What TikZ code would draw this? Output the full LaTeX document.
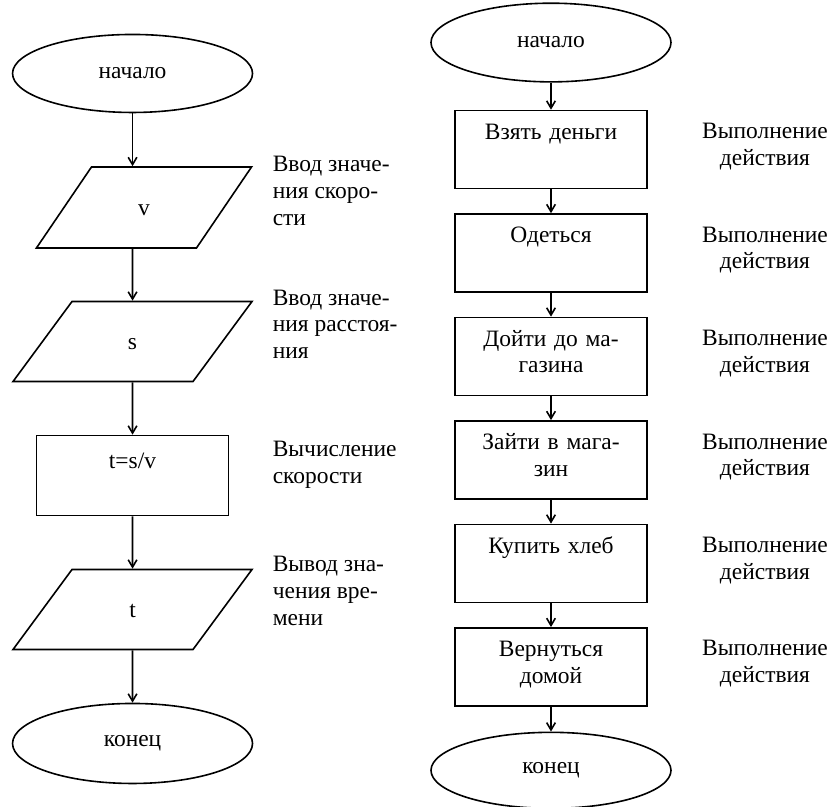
\documentclass[tikz,border=0pt]{standalone}
\usepackage{fontspec}
\setmainfont{Liberation Serif}
\usetikzlibrary{shapes.geometric,arrows.meta,positioning}

\begin{document}
\begin{tikzpicture}[
    ->, >={Straight Barb[length=5.5pt,width=6.5pt]}, line width=1.2pt, node distance=100.5pt,
    font=\fontsize{17.6}{20}\selectfont,
    terminal/.style={ellipse, draw, minimum width=180pt, minimum height=58.5pt, inner sep=0pt},
    io/.style={trapezium, draw, trapezium left angle=53.6, trapezium right angle=126.4,
      inner sep=0pt, text width=90.75pt, align=center, text height=36pt, text depth=24pt},
    action/.style={rectangle, draw, minimum width=144pt, text width=136pt, align=center,
      inner xsep=4pt, inner ysep=3pt, text height=18.5pt, text depth=34pt},
    note/.style={align=left, inner sep=0pt, anchor=west},
    remark/.style={align=center, inner sep=0pt}
  ]
  \useasboundingbox (0,0) rectangle (627pt,-605.25pt);

  % left: time from speed and distance
  \node[terminal] (start) at (99.4pt,-55.1pt) {начало};
  \node[io, below of=start, xshift=8.6pt, trapezium left angle=55.8, trapezium right angle=124.2,
    text width=78.75pt, text height=36.5pt, text depth=24.25pt] (v) {v};
  \node[io, below of=start, node distance=201pt] (s) {s};
  \node[action, below of=s, text height=21.5pt, text depth=32.5pt] (calc) {t=s/v};
  \node[io, below of=calc] (out) {t};
  \node[terminal, below of=out, minimum height=60pt] (stop) {конец};

  \node[note] (vnote) at (204pt,-143.25pt) {Ввод значе-\\ния скоро-\\сти};
  \node[note] (snote) at (204pt,-243pt) {Ввод значе-\\ния расстоя-\\ния};
  \node[note] (calcnote) at (204pt,-348.4pt) {Вычисление\\скорости};
  \node[note] (outnote) at (204pt,-443.25pt) {Вывод зна-\\чения вре-\\мени};

  \draw (start) -- (start |- v.north);
  \draw (v.south -| start) -- (s);
  \draw (s) -- (calc);
  \draw (calc) -- (out);
  \draw (out) -- (stop);

  % right: going for bread
  \node[terminal, minimum height=59pt] (begin) at (413.25pt,-31.9pt) {начало};
  \node[action, below of=begin, node distance=80.25pt] (money) {Взять деньги};
  \node[action, below of=money, node distance=77.6pt] (dress) {Одеться};
  \node[action, below of=dress, node distance=77.6pt] (walk) {Дойти до ма-\\газина};
  \node[action, below of=walk, node distance=77.6pt] (enter) {Зайти в мага-\\зин};
  \node[action, below of=enter, node distance=77.6pt] (buy) {Купить хлеб};
  \node[action, below of=buy, node distance=77.6pt] (back) {Вернуться\\домой};
  \node[terminal, below of=back, node distance=77.6pt, minimum height=57pt] (finish) {конец};

  \node[remark, right of=money, node distance=160.5pt, yshift=2.25pt] (moneynote) {Выполнение\\действия};
  \node[remark, right of=dress, node distance=160.5pt, yshift=2.25pt] (dressnote) {Выполнение\\действия};
  \node[remark, right of=walk, node distance=160.5pt, yshift=2.25pt] (walknote) {Выполнение\\действия};
  \node[remark, right of=enter, node distance=160.5pt, yshift=2.25pt] (enternote) {Выполнение\\действия};
  \node[remark, right of=buy, node distance=160.5pt, yshift=2.25pt] (buynote) {Выполнение\\действия};
  \node[remark, right of=back, node distance=160.5pt, yshift=2.25pt] (backnote) {Выполнение\\действия};

  \draw (begin) -- (money);
  \draw (money) -- (dress);
  \draw (dress) -- (walk);
  \draw (walk) -- (enter);
  \draw (enter) -- (buy);
  \draw (buy) -- (back);
  \draw (back) -- (finish);
\end{tikzpicture}
\end{document}
